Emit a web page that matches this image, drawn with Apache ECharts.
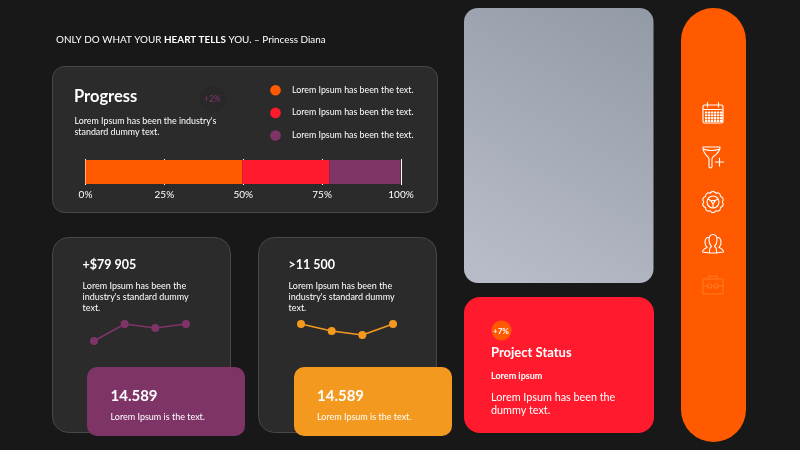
<!DOCTYPE html>
<html>
<head>
<meta charset="utf-8">
<style>
html,body{margin:0;padding:0;background:#181818}
#main{width:800px;height:450px}
</style>
<script src="https://cdn.jsdelivr.net/npm/echarts@6/dist/echarts.min.js"></script>
</head>
<body>
<div id="main"></div>
<script>
var progressNames = ['Lorem Ipsum has been the text.', 'Lorem Ipsum has been the text.', 'Lorem Ipsum has been the text.'];
var progressValues = [49.7, 27.6, 22.5];
var progressColors = ['#ff5a00', '#ff1b2d', '#7f3468'];
var lineDays = ['a', 'b', 'c', 'd'];
var revenueLine = [3, 20, 16, 20];
var countLine = [20, 13, 9, 20];

var FONT = 'Lato';
var WHITE = '#ffffff';

function panel(x, y, w, h, r, fill, border, z) {
    return {
        type: 'rect', z: z || 0,
        shape: { x: x, y: y, width: w, height: h, r: r },
        style: { fill: fill, stroke: border || null, lineWidth: border ? 1 : 0 }
    };
}
function label(x, y, text, size, weight, color) {
    return {
        type: 'text', z: 5, x: x, y: y,
        style: {
            text: text, fill: color || WHITE, font: (weight || 400) + ' ' + size + 'px ' + FONT,
            verticalAlign: 'middle'
        }
    };
}
// graphic has no plain path element, so each icon gets its own registered shape
function icon(name, x, y, d, color, width) {
    echarts.graphic.registerShape(name, echarts.graphic.extendPath(d, {}));
    return {
        type: name, z: 5, x: x, y: y,
        style: { fill: 'none', stroke: color || WHITE, lineWidth: width || 1.1, lineJoin: 'round', lineCap: 'round' }
    };
}

// calendar with its little day grid
var calendarPath = 'M-8.5,-8 H8.5 Q10,-8 10,-6.5 V8.5 Q10,10 8.5,10 H-8.5 Q-10,10 -10,8.5 V-6.5 Q-10,-8 -8.5,-8 Z M-10,-3.5 H10 M-5.5,-10.5 V-6 M5.5,-10.5 V-6';
for (var row = 0; row < 4; row++) {
    for (var col = 0; col < 6; col++) {
        var cx = -7.5 + col * 3, cy = -1 + row * 2.8;
        calendarPath += ' M' + cx + ',' + cy + ' h1.3 v1 h-1.3 Z';
    }
}
var funnelPath = 'M-10,-10 H7 Q7,-5 1,-1 Q-1,0.5 -1,2 V10 Q-2.5,12 -4,10 V2 Q-4,0.5 -6,-1 Q-10,-5 -10,-10 Z M-10,-8 Q-1.5,-5 7,-8 M6.5,1 V9 M2.5,5 H10.5';
// scalloped gear outline
var gearPath = '';
for (var g = 0; g < 10; g++) {
    var a0 = g * Math.PI / 5, a1 = a0 + Math.PI / 10, a2 = a0 + Math.PI / 5;
    if (g === 0) gearPath += 'M' + (9.3 * Math.cos(a0)).toFixed(2) + ',' + (9.3 * Math.sin(a0)).toFixed(2);
    gearPath += ' Q' + (12.4 * Math.cos(a1)).toFixed(2) + ',' + (12.4 * Math.sin(a1)).toFixed(2) +
        ' ' + (9.3 * Math.cos(a2)).toFixed(2) + ',' + (9.3 * Math.sin(a2)).toFixed(2);
}
gearPath += ' Z M6,0 A6,6 0 1 1 -6,0 A6,6 0 1 1 6,0 Z M-2.2,-1.4 H2.2 L0,2.2 Z M-2.2,-1.4 L-5.2,-3 M2.2,-1.4 L5.2,-3 M0,2.2 V6';
var peoplePath = 'M-3.5,9 V6 Q-3.5,3.5 -1.5,2.5 Q-4,0 -4,-4 Q-4,-9.5 0,-9.5 Q4,-9.5 4,-4 Q4,0 1.5,2.5 Q3.5,3.5 3.5,6 V9 Z' +
    ' M-4.5,-6.5 Q-8,-6.5 -8,-1.5 Q-8,1.5 -6,3.5 Q-10,5 -10.5,8 L-3.5,9 M4.5,-6.5 Q8,-6.5 8,-1.5 Q8,1.5 6,3.5 Q10,5 10.5,8 L3.5,9';
var casePath = 'M-10,-6 H10 V9 H-10 Z M-4,-6 V-9 H4 V-6 M-10,1 H-5.5 M-1.5,1 H1.5 M5.5,1 H10 M-1.5,1 A2,2 0 1 1 -5.5,1 A2,2 0 1 1 -1.5,1 M5.5,1 A2,2 0 1 1 1.5,1 A2,2 0 1 1 5.5,1';

var graphics = [
    panel(52.5, 66.5, 385, 146, 12, '#2b2b2b', '#484848'),
    panel(52.5, 237.5, 178, 195, 16, '#2b2b2b', '#484848'),
    panel(258.5, 237.5, 178, 195, 16, '#2b2b2b', '#484848'),
    {
        type: 'rect', shape: { x: 464, y: 8, width: 189.5, height: 275, r: 14 },
        style: {
            fill: new echarts.graphic.LinearGradient(1, 0, 0.2, 1, [
                { offset: 0, color: '#929aa5' }, { offset: 1, color: '#b8bcc8' }
            ])
        }
    },
    panel(464, 297, 190, 136, 16, '#ff1b2d'),
    { type: 'rect', shape: { x: 681, y: 8, width: 65, height: 434, r: 32.5 }, style: { fill: '#ff5a00' } },
    panel(87, 367, 158, 69, 10, '#7f3468', null, 4),
    panel(294, 367, 158, 69, 10, '#f4991f', null, 4),

    // quote
    {
        type: 'text', z: 5, x: 56, y: 40,
        style: {
            text: '{n|ONLY DO WHAT YOUR }{b|HEART TELLS}{n| YOU. – Princess Diana}',
            verticalAlign: 'middle',
            rich: {
                n: { fill: WHITE, font: '400 9.9px ' + FONT },
                b: { fill: WHITE, font: '700 9.9px ' + FONT }
            }
        }
    },
    label(74, 97, 'Progress', 16.5, 700),
    { type: 'circle', z: 3, shape: { cx: 213, cy: 99, r: 13 }, style: { fill: '#282828' } },
    label(204, 99, '+2%', 8.5, 500, '#7f3468'),
    label(74.5, 121, "Lorem Ipsum has been the industry's", 8.9, 400),
    label(74.5, 132, 'standard dummy text.', 8.9, 400),

    label(82.5, 264.5, '+$79 905', 12.5, 700),
    label(82.5, 286, 'Lorem Ipsum has been the', 9, 400),
    label(82.5, 297, "industry's standard dummy", 9, 400),
    label(82.5, 308, 'text.', 9, 400),
    label(288.5, 264.5, '>11 500', 12.5, 700),
    label(288.5, 286, 'Lorem Ipsum has been the', 9, 400),
    label(288.5, 297, "industry's standard dummy", 9, 400),
    label(288.5, 308, 'text.', 9, 400),

    label(110.5, 396.5, '14.589', 15, 700),
    label(110.5, 417, 'Lorem Ipsum is the text.', 9, 400),
    label(317, 396.5, '14.589', 15, 700),
    label(317, 417, 'Lorem Ipsum is the text.', 9, 400),

    { type: 'circle', z: 4, shape: { cx: 501.5, cy: 330.5, r: 10 }, style: { fill: '#ff5a00' } },
    label(493, 331, '+7%', 8, 700),
    label(491, 352.5, 'Project Status', 13, 700),
    label(491, 376, 'Lorem ipsum', 9, 700),
    label(491, 397.5, 'Lorem Ipsum has been the', 10.8, 400),
    label(491, 411, 'dummy text.', 10.8, 400),

    icon('calendarIcon', 713, 113, calendarPath),
    icon('funnelIcon', 713, 157, funnelPath),
    icon('gearIcon', 713, 202, gearPath),
    icon('peopleIcon', 713, 244, peoplePath),
    icon('caseIcon', 713, 285, casePath, '#ff7a1f')
];

// legend rows of the progress panel
progressNames.forEach(function (name, i) {
    var rowY = 90.3 + i * 22.6;
    graphics.push({ type: 'circle', z: 5, shape: { cx: 275.5, cy: rowY, r: 5.3 }, style: { fill: progressColors[i] } });
    graphics.push(label(292, rowY - 0.3, name, 8.85, 400));
});

var barSeries = progressValues.map(function (v, i) {
    return {
        type: 'bar', stack: 'progress', xAxisIndex: 0, yAxisIndex: 0,
        data: [v], barWidth: 24, silent: true, z: 3,
        itemStyle: { color: progressColors[i] }
    };
});

function sparkSeries(idx, data, color) {
    return {
        type: 'line', xAxisIndex: idx, yAxisIndex: idx, data: data, silent: true, z: 3,
        symbol: 'circle', symbolSize: 8,
        lineStyle: { color: color, width: 1.5 },
        itemStyle: { color: color }
    };
}
function hiddenX(idx) {
    return { gridIndex: idx, type: 'category', data: lineDays, boundaryGap: false, show: false };
}
function hiddenY(idx) {
    return { gridIndex: idx, type: 'value', min: 0, max: 30, show: false };
}

var chart = echarts.init(document.getElementById('main'), null, { renderer: 'canvas' });
chart.setOption({
    animation: false,
    backgroundColor: '#181818',
    textStyle: { fontFamily: FONT },
    grid: [
        { left: 85.5, width: 315.5, top: 159, height: 26 },
        { left: 94, width: 92, top: 314, height: 30 },
        { left: 301, width: 92, top: 314, height: 30 }
    ],
    xAxis: [
        {
            gridIndex: 0, type: 'value', min: 0, max: 100, interval: 25,
            axisLine: { show: false }, axisTick: { show: false },
            splitLine: { show: true, lineStyle: { color: WHITE, width: 1, type: 'solid' } },
            axisLabel: { formatter: '{value}%', color: WHITE, fontSize: 10, margin: 5, fontFamily: FONT }
        },
        hiddenX(1), hiddenX(2)
    ],
    yAxis: [
        { gridIndex: 0, type: 'category', data: ['progress'], show: false },
        hiddenY(1), hiddenY(2)
    ],
    series: barSeries.concat([
        sparkSeries(1, revenueLine, '#7f3468'),
        sparkSeries(2, countLine, '#f4991f')
    ]),
    graphic: { elements: graphics }
});
</script>
</body>
</html>
